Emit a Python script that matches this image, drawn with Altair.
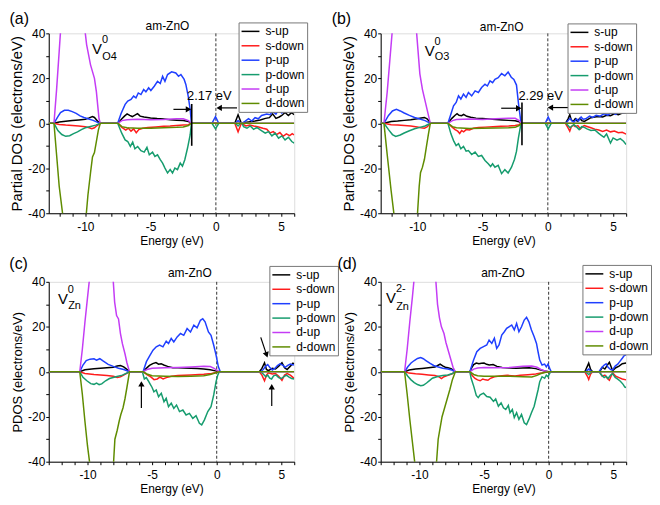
import altair as alt
import pandas as pd

FONT = "Liberation Sans, Arial, Helvetica, sans-serif"
SERIES = ["s-up", "s-down", "p-up", "p-down", "d-up", "d-down"]
COLORS = ["#000000", "#ff1c1c", "#1f3fff", "#169c6e", "#c43cf5", "#5f8c00"]

# ---------------- panel (a): V_O4^0 ----------------
A_S_UP = [(-12.8,0),(-12.4,0),(-12.0,0.6),(-11.5,0.9),(-11.0,1.2),(-10.5,1.5),(-10.0,1.8),(-9.7,2.4),(-9.45,3.0),(-9.3,2.6),(-9.15,1.6),(-9.0,0.6),(-8.85,0),(-7.5,0),(-7.2,2.0),(-7.0,3.2),(-6.8,4.2),(-6.6,3.5),(-6.4,3.0),(-6.2,3.6),(-6.0,4.3),(-5.8,3.2),(-5.5,2.8),(-5.0,2.4),(-4.5,2.1),(-4.0,1.9),(-3.5,1.6),(-3.0,1.4),(-2.5,1.2),(-2.1,0.8),(-1.9,0),(1.45,0),(1.7,3.8),(1.95,0),(2.1,0.3),(2.5,0.6),(3.0,1.0),(3.4,1.5),(3.8,2.2),(4.1,2.5),(4.35,4.2),(4.6,2.2),(4.85,2.8),(5.05,3.5),(5.3,4.8),(5.55,3.5),(5.8,4.7),(6.0,3.8)]
A_S_DOWN = [(-12.8,0),(-12.4,0),(-12.0,-0.5),(-11.5,-0.8),(-11.0,-1.0),(-10.5,-1.2),(-10.0,-1.5),(-9.7,-2.0),(-9.5,-2.4),(-9.3,-2.0),(-9.1,-1.0),(-8.85,0),(-7.5,0),(-7.2,-1.8),(-6.9,-3.0),(-6.7,-2.2),(-6.5,-3.5),(-6.3,-2.5),(-6.1,-4.2),(-5.9,-2.8),(-5.6,-2.2),(-5.2,-1.9),(-4.6,-1.6),(-4.0,-1.3),(-3.5,-1.2),(-3.0,-1.0),(-2.5,-0.8),(-2.1,-0.6),(-1.9,0),(1.45,0),(1.7,-3.8),(1.95,0),(2.1,-0.5),(2.3,-1.2),(2.6,-0.8),(2.9,-1.2),(3.2,-1.5),(3.6,-2.2),(3.9,-2.6),(4.15,-4.3),(4.4,-3.7),(4.65,-5.0),(4.9,-4.1),(5.15,-5.8),(5.4,-4.7),(5.65,-5.5),(5.85,-4.6),(6.0,-5.2)]
A_P_UP = [(-12.8,0),(-12.4,0),(-12.1,3.0),(-11.9,4.8),(-11.6,5.8),(-11.3,5.8),(-11.0,5.2),(-10.7,4.4),(-10.4,3.3),(-10.1,2.6),(-9.8,2.0),(-9.4,1.3),(-9.1,0.5),(-8.85,0),(-7.52,0),(-7.26,4.4),(-6.95,8.4),(-6.75,9.9),(-6.5,10.6),(-6.3,12.1),(-6.12,11.3),(-5.94,13.5),(-5.74,12.8),(-5.53,15.0),(-5.36,14.0),(-5.15,15.8),(-4.98,14.6),(-4.72,16.5),(-4.47,18.7),(-4.26,17.7),(-4.08,20.9),(-3.9,18.7),(-3.7,21.7),(-3.39,22.9),(-3.07,22.4),(-2.86,20.9),(-2.68,21.7),(-2.43,19.5),(-2.3,17.3),(-2.12,12.1),(-1.97,6.2),(-1.87,0),(-0.3,0),(-0.03,3.0),(0.22,0),(1.5,0),(1.7,1.2),(1.9,0),(2.0,0),(2.25,1.0),(2.5,2.1),(2.75,1.0),(3.0,2.5),(3.25,2.0),(3.5,3.5),(3.9,4.1),(4.15,3.8),(4.35,5.3),(4.6,4.1),(4.8,6.0),(5.05,4.6),(5.3,5.6),(5.55,6.6),(5.8,5.6),(6.0,6.2)]
A_P_DOWN = [(-12.8,0),(-12.4,0),(-12.1,-3.2),(-11.8,-5.0),(-11.5,-5.8),(-11.2,-5.5),(-10.9,-4.6),(-10.6,-3.8),(-10.3,-2.8),(-10.0,-2.0),(-9.6,-1.4),(-9.2,-0.8),(-8.85,0),(-7.52,0),(-7.21,-4.4),(-6.95,-7.4),(-6.75,-8.1),(-6.55,-10.3),(-6.37,-8.4),(-6.2,-11.3),(-5.99,-10.3),(-5.74,-12.2),(-5.49,-12.8),(-5.28,-10.7),(-5.1,-14.0),(-4.85,-12.8),(-4.67,-14.7),(-4.47,-14.0),(-4.26,-16.2),(-4.08,-17.7),(-3.9,-19.9),(-3.7,-22.1),(-3.5,-20.6),(-3.32,-22.1),(-3.14,-19.9),(-2.94,-20.6),(-2.73,-17.7),(-2.56,-19.1),(-2.38,-16.2),(-2.17,-11.0),(-1.97,-5.2),(-1.87,0),(-0.3,0),(-0.03,-2.5),(0.22,0),(1.5,0),(1.7,-1.2),(1.9,0),(2.0,0),(2.12,-1.5),(2.38,-2.2),(2.63,-1.2),(2.89,-2.7),(3.14,-1.8),(3.4,-2.9),(3.78,-4.4),(4.03,-3.7),(4.29,-5.6),(4.54,-4.4),(4.8,-6.6),(5.05,-5.6),(5.3,-7.4),(5.56,-6.2),(5.81,-8.1),(6.0,-8.8)]
A_D_UP = [(-12.8,0),(-12.4,0),(-12.2,15),(-12.0,32),(-11.85,45),(-11.5,80),(-10.5,80),(-10.1,45),(-10.0,40),(-9.9,35),(-9.6,26),(-9.3,20),(-9.15,14),(-9.05,8),(-8.95,2),(-8.85,0),(-7.5,0),(-7.2,1.2),(-6.8,1.6),(-6.0,1.8),(-5.0,1.6),(-4.0,1.7),(-3.0,2.0),(-2.5,2.0),(-2.1,1.2),(-1.9,0),(6.0,0)]
A_D_DOWN = [(-12.8,0),(-12.4,0),(-12.2,-14),(-12.0,-28),(-11.7,-42),(-11.0,-80),(-10.4,-80),(-9.95,-42),(-9.8,-32),(-9.6,-22),(-9.45,-15),(-9.3,-13),(-9.15,-8),(-9.0,-3),(-8.85,0),(-7.5,0),(-7.2,-1.5),(-6.8,-2.0),(-6.0,-2.2),(-5.0,-2.2),(-4.0,-2.0),(-3.0,-1.8),(-2.5,-1.6),(-2.1,-1.0),(-1.9,0),(6.0,0)]

# ---------------- panel (b): V_O3^0 ----------------
B_S_UP = [(-12.8,0),(-12.55,0),(-12.0,0.8),(-11.5,1.0),(-11.0,1.3),(-10.5,1.6),(-10.0,2.0),(-9.7,2.4),(-9.45,2.6),(-9.25,2.0),(-9.1,1.0),(-9.0,0),(-7.65,0),(-7.35,2.2),(-7.1,3.6),(-6.95,4.3),(-6.8,3.6),(-6.6,3.4),(-6.45,4.0),(-6.2,3.1),(-5.9,2.7),(-5.5,2.3),(-5.0,2.1),(-4.5,1.9),(-4.0,1.7),(-3.5,1.5),(-3.0,1.3),(-2.5,1.1),(-2.2,0.7),(-2.05,0),(1.35,0),(1.55,2.0),(1.68,3.8),(1.8,1.5),(1.95,0.8),(2.1,2.0),(2.25,1.0),(2.45,2.2),(2.6,1.2),(2.8,0.8),(3.0,1.5),(3.3,2.5),(3.6,2.8),(3.9,3.0),(4.2,2.8),(4.5,3.6),(4.8,3.4),(5.1,4.2),(5.4,3.8),(5.7,4.6),(6.0,4.8)]
B_S_DOWN = [(-12.8,0),(-12.55,0),(-12.0,-0.6),(-11.5,-0.8),(-11.0,-1.0),(-10.5,-1.2),(-10.0,-1.6),(-9.7,-2.0),(-9.45,-2.2),(-9.25,-1.6),(-9.1,-0.8),(-9.0,0),(-7.65,0),(-7.35,-1.6),(-7.1,-2.8),(-6.9,-3.5),(-6.75,-4.5),(-6.6,-3.2),(-6.45,-3.8),(-6.25,-2.8),(-6.0,-3.0),(-5.7,-2.2),(-5.3,-1.9),(-4.8,-1.7),(-4.2,-1.5),(-3.6,-1.3),(-3.0,-1.2),(-2.5,-1.0),(-2.2,-0.6),(-2.05,0),(1.35,0),(1.55,-2.0),(1.68,-3.5),(1.8,-1.5),(1.95,-0.8),(2.1,-1.5),(2.3,-1.0),(2.5,-2.5),(2.65,-1.5),(2.8,-1.0),(3.0,-1.4),(3.3,-2.0),(3.6,-2.6),(3.9,-3.0),(4.2,-3.6),(4.5,-3.0),(4.8,-3.8),(5.1,-3.4),(5.4,-4.2),(5.7,-4.0),(6.0,-4.8)]
B_P_UP = [(-12.8,0),(-12.55,0),(-12.2,3.5),(-11.9,5.5),(-11.6,6.2),(-11.3,5.5),(-11.0,4.6),(-10.6,3.5),(-10.2,2.6),(-9.8,1.9),(-9.4,1.2),(-9.0,0),(-7.65,0),(-7.42,4.1),(-7.22,7.8),(-7.02,9.3),(-6.84,12.2),(-6.66,10.8),(-6.46,13.0),(-6.26,11.5),(-6.08,13.7),(-5.83,12.2),(-5.57,14.4),(-5.32,13.7),(-5.07,15.9),(-4.81,17.4),(-4.63,16.6),(-4.43,18.9),(-4.23,18.1),(-4.05,19.6),(-3.8,20.3),(-3.54,22.1),(-3.29,21.1),(-3.04,22.8),(-2.8,20.5),(-2.6,19.5),(-2.4,17.0),(-2.25,9.0),(-2.05,0),(-0.2,0),(0.03,2.8),(0.26,0),(1.4,0),(1.55,1.2),(1.7,2.2),(1.85,1.0),(2.0,0.5),(2.2,2.0),(2.35,1.0),(2.55,2.8),(2.7,1.8),(2.9,2.0),(3.2,3.2),(3.45,2.6),(3.7,3.6),(4.0,3.2),(4.3,4.2),(4.6,3.6),(4.9,4.8),(5.2,4.0),(5.5,5.2),(5.8,4.6),(6.0,5.4)]
B_P_DOWN = [(-12.8,0),(-12.55,0),(-12.2,-2.8),(-11.9,-5.0),(-11.65,-5.8),(-11.3,-5.2),(-11.0,-4.3),(-10.6,-3.3),(-10.2,-2.4),(-9.8,-1.8),(-9.4,-1.2),(-9.0,0),(-7.65,0),(-7.42,-4.7),(-7.22,-7.7),(-7.02,-9.9),(-6.84,-9.1),(-6.66,-11.3),(-6.46,-10.3),(-6.26,-12.4),(-6.08,-12.1),(-5.83,-13.9),(-5.57,-12.8),(-5.32,-14.7),(-5.07,-14.3),(-4.81,-16.5),(-4.56,-18.0),(-4.38,-19.2),(-4.23,-18.0),(-4.05,-19.5),(-3.8,-18.7),(-3.54,-22.4),(-3.29,-20.6),(-3.04,-22.1),(-2.78,-19.5),(-2.55,-16.0),(-2.4,-12.5),(-2.25,-6.5),(-2.05,0),(-0.2,0),(0.03,-2.5),(0.26,0),(1.4,0),(1.55,-1.0),(1.7,-2.0),(1.85,-1.2),(2.0,-0.6),(2.2,-1.6),(2.4,-2.8),(2.6,-1.5),(2.8,-1.8),(3.0,-2.5),(3.3,-3.2),(3.6,-3.0),(3.9,-4.5),(4.1,-5.4),(4.3,-6.2),(4.5,-4.7),(4.8,-8.8),(5.0,-6.5),(5.3,-7.5),(5.55,-6.8),(5.8,-8.0),(6.0,-9.5)]
B_D_UP = [(-12.8,0),(-12.55,0),(-12.3,14),(-12.1,28),(-11.9,42),(-11.5,80),(-10.6,80),(-10.1,44),(-9.95,33),(-9.8,22),(-9.6,15),(-9.4,10),(-9.2,5),(-9.0,0),(-7.65,0),(-7.3,1.2),(-7.0,1.7),(-6.0,1.9),(-5.0,1.7),(-4.0,2.0),(-3.0,2.3),(-2.5,2.2),(-2.2,1.2),(-2.05,0),(6.0,0)]
B_D_DOWN = [(-12.8,0),(-12.55,0),(-12.3,-14),(-12.0,-30),(-11.75,-42),(-11.2,-80),(-10.4,-80),(-10.0,-42),(-9.85,-28),(-9.75,-22),(-9.6,-19.5),(-9.45,-16),(-9.3,-10.5),(-9.15,-5),(-9.0,0),(-7.65,0),(-7.3,-1.5),(-7.0,-2.0),(-6.0,-2.3),(-5.0,-2.2),(-4.0,-2.1),(-3.0,-2.0),(-2.5,-1.8),(-2.2,-1.0),(-2.05,0),(6.0,0)]

# ---------------- panel (c): V_Zn^0 ----------------
C_S_UP = [(-13,0),(-10.6,0),(-10.2,0.9),(-9.5,1.3),(-9.0,1.6),(-8.5,1.8),(-8.0,2.0),(-7.7,2.6),(-7.45,2.8),(-7.2,2.2),(-7.0,1.3),(-6.75,0),(-5.7,0),(-5.45,1.5),(-5.2,2.8),(-4.95,3.6),(-4.7,4.1),(-4.5,3.4),(-4.3,3.6),(-4.1,3.0),(-3.8,2.4),(-3.4,1.8),(-3.0,1.8),(-2.5,1.7),(-2.0,1.6),(-1.5,1.4),(-1.0,1.2),(-0.5,0.9),(-0.1,0.4),(0.2,0),(3.3,0),(3.5,1.5),(3.7,4.0),(3.85,1.0),(4.0,0.5),(4.3,1.5),(4.55,1.2),(4.8,2.5),(5.05,4.0),(5.25,1.8),(5.45,1.0),(5.7,2.5),(5.9,3.8),(6.0,3.5)]
C_S_DOWN = [(-13,0),(-10.6,0),(-10.2,-0.8),(-9.5,-1.2),(-9.0,-1.4),(-8.5,-1.7),(-8.0,-2.0),(-7.7,-2.5),(-7.45,-2.2),(-7.2,-1.5),(-7.0,-0.8),(-6.75,0),(-5.7,0),(-5.4,-1.3),(-5.1,-2.3),(-4.85,-3.5),(-4.6,-3.2),(-4.4,-2.4),(-4.15,-3.2),(-3.9,-2.6),(-3.5,-2.0),(-3.0,-1.7),(-2.0,-1.4),(-1.0,-1.1),(-0.4,-0.8),(0.2,0),(3.3,0),(3.5,-1.5),(3.7,-4.0),(3.85,-1.5),(4.0,-0.5),(4.3,-1.0),(4.55,-0.8),(4.8,-2.0),(5.05,-3.8),(5.25,-1.5),(5.45,-0.8),(5.7,-1.5),(5.9,-2.5),(6.0,-3.0)]
C_P_UP = [(-13,0),(-10.6,0),(-10.35,3.0),(-10.1,5.0),(-9.8,5.6),(-9.5,5.8),(-9.3,5.2),(-9.05,5.8),(-8.8,4.8),(-8.4,3.3),(-8.0,2.4),(-7.6,1.6),(-7.2,1.0),(-6.75,0),(-5.7,0),(-5.44,4.5),(-5.19,7.1),(-4.93,9.6),(-4.68,11.1),(-4.42,11.9),(-4.16,11.1),(-3.91,13.6),(-3.73,12.6),(-3.52,14.8),(-3.32,13.3),(-3.06,15.5),(-2.8,17.0),(-2.55,16.2),(-2.29,19.2),(-2.03,17.7),(-1.77,20.7),(-1.52,19.5),(-1.26,22.9),(-1.08,23.6),(-0.9,22.2),(-0.64,17.7),(-0.44,16.2),(-0.23,11.8),(-0.05,7.4),(0.13,2.2),(0.28,0),(3.4,0),(3.6,1.0),(3.8,2.5),(3.95,3.2),(4.1,2.0),(4.3,0.8),(4.5,1.5),(4.7,2.8),(4.9,3.5),(5.1,3.0),(5.3,2.0),(5.5,2.8),(5.7,3.4),(5.9,3.0),(6.0,3.2)]
C_P_DOWN = [(-13,0),(-10.6,0),(-10.35,-2.5),(-10.05,-4.0),(-9.75,-5.3),(-9.5,-5.6),(-9.3,-5.0),(-9.1,-5.7),(-8.9,-5.4),(-8.6,-4.0),(-8.3,-3.0),(-7.8,-2.2),(-7.3,-1.5),(-6.75,0),(-5.75,0),(-5.6,-3.2),(-5.45,-2.6),(-5.3,-4.0),(-5.15,-5.5),(-5.0,-7.0),(-4.86,-8.9),(-4.68,-8.1),(-4.5,-11.1),(-4.29,-9.6),(-4.08,-13.3),(-3.91,-11.8),(-3.73,-15.5),(-3.52,-14.0),(-3.32,-16.3),(-3.11,-14.8),(-2.88,-17.7),(-2.62,-17.0),(-2.37,-19.2),(-2.11,-18.5),(-1.85,-20.7),(-1.6,-19.5),(-1.34,-22.9),(-1.16,-23.6),(-0.95,-21.4),(-0.69,-17.7),(-0.44,-15.5),(-0.23,-10.3),(-0.05,-4.4),(0.08,-1.5),(0.2,0),(3.4,0),(3.6,-1.0),(3.8,-2.2),(3.95,-1.5),(4.1,-2.8),(4.25,-3.2),(4.4,-1.8),(4.6,-1.5),(4.8,-2.6),(5.0,-3.0),(5.2,-2.2),(5.4,-1.5),(5.6,-2.4),(5.8,-3.0),(6.0,-3.2)]
C_D_UP = [(-13,0),(-10.6,0),(-10.4,10),(-10.2,22),(-10.0,33),(-9.85,41),(-9.5,80),(-8.4,80),(-8.05,44),(-7.9,31),(-7.75,25),(-7.6,23.5),(-7.45,17),(-7.3,12.5),(-7.1,8),(-6.95,4),(-6.75,0),(-5.7,0),(-5.4,1.0),(-5.0,1.6),(-4.0,1.8),(-3.0,1.9),(-2.0,2.1),(-1.0,2.4),(-0.5,2.3),(-0.2,1.5),(0.2,0),(6.0,0)]
C_D_DOWN = [(-13,0),(-10.6,0),(-10.4,-10),(-10.2,-22),(-10.0,-33),(-9.8,-42),(-9.4,-80),(-8.4,-80),(-8.0,-42),(-7.88,-30),(-7.7,-26),(-7.55,-22),(-7.42,-19),(-7.25,-16),(-7.1,-12),(-6.95,-7),(-6.75,0),(-5.7,0),(-5.4,-1.0),(-5.0,-1.8),(-4.0,-2.0),(-3.0,-2.1),(-2.0,-2.0),(-1.0,-1.8),(-0.5,-1.2),(0.2,0),(6.0,0)]

# ---------------- panel (d): V_Zn^2- ----------------
D_S_UP = [(-13,0),(-11.15,0),(-10.8,0.8),(-10.3,1.2),(-9.8,1.5),(-9.3,1.8),(-8.8,2.1),(-8.55,2.9),(-8.4,3.4),(-8.2,2.6),(-8.0,2.0),(-7.8,1.8),(-7.55,1.4),(-7.35,0.6),(-7.22,0),(-6.1,0),(-5.95,1.8),(-5.8,3.2),(-5.6,3.9),(-5.4,3.6),(-5.2,3.8),(-5.0,3.9),(-4.8,3.3),(-4.6,3.0),(-4.3,3.2),(-4.0,2.4),(-3.6,1.9),(-3.0,1.7),(-2.5,1.6),(-2.0,1.7),(-1.5,1.8),(-1.0,1.4),(-0.6,0.8),(-0.3,0.3),(0.0,0),(2.8,0),(3.0,2.5),(3.1,3.8),(3.25,1.0),(3.4,0),(3.95,0),(4.15,2.0),(4.35,1.2),(4.55,3.0),(4.7,4.2),(4.85,2.0),(4.95,0.5),(5.2,1.8),(5.45,2.5),(5.7,3.6),(6.0,3.9)]
D_S_DOWN = [(-13,0),(-11.15,0),(-10.8,-0.6),(-10.3,-0.9),(-9.8,-1.1),(-9.3,-1.4),(-8.8,-1.7),(-8.5,-2.2),(-8.3,-3.0),(-8.1,-2.2),(-7.8,-1.6),(-7.5,-1.0),(-7.22,0),(-6.1,0),(-5.9,-1.8),(-5.7,-3.0),(-5.5,-3.6),(-5.3,-4.0),(-5.1,-3.2),(-4.9,-3.6),(-4.7,-3.8),(-4.5,-2.9),(-4.2,-2.2),(-3.8,-1.9),(-3.2,-1.6),(-2.6,-1.9),(-2.2,-1.6),(-1.6,-1.3),(-1.0,-1.0),(-0.6,-0.6),(-0.3,-0.2),(0.0,0),(2.8,0),(3.0,-2.0),(3.1,-3.4),(3.25,-1.0),(3.4,0),(3.95,0),(4.15,-2.0),(4.35,-1.5),(4.55,-3.0),(4.7,-3.8),(4.85,-1.8),(4.95,-0.5),(5.2,-2.0),(5.45,-2.6),(5.7,-3.2),(6.0,-3.6)]
D_P_UP = [(-13,0),(-11.15,0),(-10.9,2.2),(-10.65,3.9),(-10.4,5.0),(-10.15,5.9),(-9.9,6.3),(-9.7,5.8),(-9.5,5.0),(-9.2,3.8),(-8.9,2.8),(-8.6,2.2),(-8.2,1.6),(-7.8,1.2),(-7.5,0.8),(-7.22,0),(-6.1,0),(-5.81,5.2),(-5.56,8.9),(-5.3,10.4),(-5.04,11.2),(-4.79,11.9),(-4.61,14.1),(-4.4,12.6),(-4.2,14.9),(-4.02,10.4),(-3.84,11.9),(-3.63,16.3),(-3.43,17.8),(-3.25,19.3),(-3.07,20.0),(-2.86,20.8),(-2.66,18.6),(-2.48,21.5),(-2.3,17.8),(-2.1,20.0),(-1.89,23.0),(-1.71,24.2),(-1.53,22.2),(-1.33,18.6),(-1.12,15.6),(-0.94,12.6),(-0.82,8.9),(-0.69,5.2),(-0.51,3.0),(-0.31,3.4),(-0.18,2.2),(-0.05,3.4),(0.08,1.5),(0.2,0),(2.85,0),(3.1,1.2),(3.35,0),(3.9,0),(4.1,1.8),(4.3,3.0),(4.45,3.5),(4.6,2.0),(4.8,1.0),(4.95,0.8),(5.15,2.5),(5.35,3.4),(5.5,4.5),(5.7,6.0),(5.85,7.2),(6.0,7.5)]
D_P_DOWN = [(-13,0),(-11.15,0),(-10.9,-2.0),(-10.65,-3.6),(-10.4,-4.8),(-10.15,-5.7),(-9.9,-6.2),(-9.7,-6.0),(-9.45,-5.0),(-9.2,-3.8),(-9.0,-2.9),(-8.6,-2.1),(-8.2,-1.7),(-7.8,-1.4),(-7.5,-0.9),(-7.22,0),(-6.1,0),(-6.0,-2.9),(-5.79,-6.6),(-5.6,-10.5),(-5.45,-11.5),(-5.3,-10.3),(-5.04,-9.5),(-4.79,-11.0),(-4.53,-11.3),(-4.27,-13.2),(-4.1,-12.1),(-3.89,-15.3),(-3.68,-13.8),(-3.5,-16.0),(-3.32,-16.8),(-3.12,-15.0),(-2.99,-18.2),(-2.81,-16.8),(-2.66,-20.4),(-2.48,-18.2),(-2.3,-21.2),(-2.1,-19.0),(-1.89,-22.7),(-1.71,-23.5),(-1.53,-21.2),(-1.33,-18.2),(-1.12,-15.3),(-0.94,-11.0),(-0.82,-8.1),(-0.69,-4.4),(-0.51,-2.2),(-0.31,-2.9),(-0.18,-1.5),(-0.05,-2.2),(0.08,-0.7),(0.2,0),(2.85,0),(3.1,-1.2),(3.35,0),(3.9,0),(4.1,-1.5),(4.3,-2.6),(4.45,-2.0),(4.6,-3.0),(4.8,-1.5),(4.95,-0.8),(5.15,-2.5),(5.35,-3.3),(5.55,-4.2),(5.75,-5.5),(5.9,-6.8),(6.0,-7.0)]
D_D_UP = [(-13,0),(-11.15,0),(-10.95,10),(-10.75,22),(-10.55,33),(-10.4,42),(-10.0,80),(-9.0,80),(-8.75,42),(-8.6,30),(-8.45,24),(-8.3,20),(-8.1,17),(-7.95,13),(-7.8,10),(-7.6,6),(-7.4,2),(-7.22,0),(-6.1,0),(-5.8,1.2),(-5.5,1.7),(-5.0,1.9),(-4.0,1.8),(-3.0,1.9),(-2.0,2.4),(-1.3,2.6),(-0.9,2.0),(-0.6,1.0),(-0.3,0.4),(0.0,0),(6.0,0)]
D_D_DOWN = [(-13,0),(-11.15,0),(-10.95,-10),(-10.75,-21),(-10.55,-31),(-10.35,-41),(-9.9,-80),(-9.0,-80),(-8.7,-42),(-8.55,-30),(-8.4,-25),(-8.25,-20),(-8.1,-17),(-7.95,-14),(-7.8,-11),(-7.65,-8),(-7.45,-3.5),(-7.22,0),(-6.1,0),(-5.8,-1.2),(-5.5,-1.8),(-5.0,-2.0),(-4.0,-2.0),(-3.0,-2.0),(-2.0,-2.2),(-1.3,-2.3),(-0.9,-1.6),(-0.6,-0.8),(-0.3,-0.3),(0.0,0),(6.0,0)]

# ---------------- annotation text / positions (data units: eV, states/eV) ----------------
PANEL_LABELS = ["(a)", "(b)", "(c)", "(d)"]
LABEL_POS = [(-15.8, 50.0), (-16.55, 50.0), (-16.05, 51.5), (-16.35, 51.5)]
TITLE_POS = [(-3.71, 43.1), (-3.54, 42.8), (-2.08, 43.8), (-3.53, 43.7)]
DEFECT_SUP = ["0", "0", "0", "2-"]
DEFECT_SUB = ["O4", "O3", "Zn", "Zn"]
V_POS = [(-9.1, 32.9), (-9.05, 32.2), (-11.9, 32.2), (-12.2, 32.7)]
SUP_POS = [(-8.72, 36.9), (-8.67, 36.2), (-11.52, 36.5), (-11.82, 36.9)]
SUB_POS = [(-8.7, 29.6), (-8.65, 29.6), (-11.5, 29.2), (-11.8, 29.0)]
GAP_TEXT = ["2.17 eV", "2.29 eV"]
GAP_TEXT_POS = [(-0.5, 12.2), (-0.55, 12.3)]
# line segments (E1, D1, E2, D2, width)
SEGMENTS = [
    [(-1.85, -10.0, -1.85, 8.6, 1.6), (-3.25, 6.2, -2.1, 6.2, 1.2), (1.62, 6.85, 0.25, 6.85, 1.2)],
    [(-1.98, -9.8, -1.98, 9.2, 1.6), (-3.57, 6.7, -2.23, 6.7, 1.2), (1.65, 7.0, 0.2, 7.0, 1.2)],
    [(-5.83, -16.1, -5.83, -5.4, 1.2), (4.26, -15.2, 4.26, -6.7, 1.2), (3.41, 15.3, 3.864, 7.53, 1.2)],
    [],
]
# arrow heads (E, D, shape, angle)
HEADS = [
    [(-2.1, 6.2, "triangle-right", 0), (0.25, 6.85, "triangle-left", 0)],
    [(-2.23, 6.7, "triangle-right", 0), (0.2, 7.0, "triangle-left", 0)],
    [(-5.83, -5.4, "triangle-up", 0), (4.26, -6.7, "triangle-up", 0), (3.864, 7.53, "triangle-down", 341.5)],
    [],
]
X_DOMAINS = [(-12.8, 6), (-12.8, 6), (-13, 6), (-13, 6)]
Y_TITLES = ["Partial DOS (electrons/eV)", "Partial DOS (electrons/eV)", "PDOS (electrons/eV)", "PDOS (electrons/eV)"]
Y_TITLE_SIZES = [15, 15, 13, 13]
LEGEND_XY = [(191, -11), (188, -10), (222, -16), (203, -17)]

PANEL_SERIES = [
    [A_S_UP, A_S_DOWN, A_P_UP, A_P_DOWN, A_D_UP, A_D_DOWN],
    [B_S_UP, B_S_DOWN, B_P_UP, B_P_DOWN, B_D_UP, B_D_DOWN],
    [C_S_UP, C_S_DOWN, C_P_UP, C_P_DOWN, C_D_UP, C_D_DOWN],
    [D_S_UP, D_S_DOWN, D_P_UP, D_P_DOWN, D_D_UP, D_D_DOWN],
]

W, H = 247, 181


def make_panel(k):
    rows = []
    for name, pts in zip(SERIES, PANEL_SERIES[k]):
        for i, (e, d) in enumerate(pts):
            rows.append({"series": name, "E": e, "DOS": d, "i": i})
    lines = pd.DataFrame(rows)

    lo, hi = X_DOMAINS[k]
    xt = list(range(int(-13 if lo <= -13 else -12), 7))
    lab = "datum.value % 5 == 0 ? (datum.value < 0 ? '-' + abs(datum.value) : '' + datum.value) : ''"
    x = alt.X("E:Q", scale=alt.Scale(domain=[lo, hi], nice=False, zero=False),
              axis=alt.Axis(values=xt, labelExpr=lab, title="Energy (eV)", grid=False,
                            tickSize=3, labelPadding=5, titlePadding=3, labelFontSize=12,
                            titleFontSize=12, titleFontWeight="normal", labelOverlap=False,
                            labelFlush=False, domainColor="black", tickColor="black",
                            labelColor="black", titleColor="black", labelFont=FONT, titleFont=FONT))
    y = alt.Y("DOS:Q", scale=alt.Scale(domain=[-40, 40], nice=False),
              axis=alt.Axis(values=list(range(-40, 41, 10)),
                            labelExpr="datum.value % 20 == 0 ? (datum.value < 0 ? '-' + abs(datum.value) : '' + datum.value) : ''",
                            title=Y_TITLES[k], grid=False, tickSize=3, labelPadding=1,
                            titlePadding=3, labelFontSize=12, titleFontSize=Y_TITLE_SIZES[k],
                            titleFontWeight="normal", labelOverlap=False, labelFlush=False,
                            domainColor="black", tickColor="black", labelColor="black",
                            titleColor="black", labelFont=FONT, titleFont=FONT))
    lx, ly = LEGEND_XY[k]
    color = alt.Color("series:N", scale=alt.Scale(domain=SERIES, range=COLORS),
                      legend=alt.Legend(title=None, orient="none", legendX=lx, legendY=ly,
                                        fillColor="white", strokeColor="#777", padding=2,
                                        symbolType="M-1,0H2", symbolSize=144, symbolStrokeWidth=1.5,
                                        labelFontSize=12, labelFont=FONT, labelOffset=11,
                                        rowPadding=1.5, labelColor="black", labelLimit=200))

    layers = []
    # dashed Fermi level
    layers.append(alt.Chart(pd.DataFrame({"E": [0.0]})).mark_rule(
        color="#333", strokeDash=[3, 2], strokeWidth=1).encode(x=x))
    for s in SERIES:
        layers.append(alt.Chart(lines).transform_filter(alt.datum.series == s).mark_line(
            clip=True, strokeWidth=1.5).encode(x=x, y=y, color=color, order="i:Q"))

    for (e1, d1, e2, d2, w) in SEGMENTS[k]:
        seg = pd.DataFrame({"E": [e1], "DOS": [d1], "E2": [e2], "D2": [d2]})
        layers.append(alt.Chart(seg).mark_rule(color="black", strokeWidth=w).encode(
            x=x, y=y, x2="E2:Q", y2="D2:Q"))
    for (e, d, shp, ang) in HEADS[k]:
        hd = pd.DataFrame({"E": [e], "DOS": [d]})
        layers.append(alt.Chart(hd).mark_point(shape=shp, angle=ang, filled=True, size=40,
                                               color="black", opacity=1).encode(x=x, y=y))

    def txt(t, pos, size, align="center", baseline="middle"):
        df = pd.DataFrame({"E": [pos[0]], "DOS": [pos[1]], "t": [t]})
        return alt.Chart(df).mark_text(font=FONT, fontSize=size, align=align, baseline=baseline,
                                       color="black").encode(x=x, y=y, text="t:N")

    layers.append(txt(PANEL_LABELS[k], LABEL_POS[k], 16, align="left", baseline="top"))
    layers.append(txt("am-ZnO", TITLE_POS[k], 12))
    layers.append(txt("V", V_POS[k], 15))
    layers.append(txt(DEFECT_SUP[k], SUP_POS[k], 11, align="left"))
    layers.append(txt(DEFECT_SUB[k], SUB_POS[k], 11, align="left"))
    if k < 2:
        layers.append(txt(GAP_TEXT[k], GAP_TEXT_POS[k], 13))

    return alt.layer(*layers).properties(width=W, height=H)


panels = [make_panel(k) for k in range(4)]
chart = alt.concat(*panels, columns=2, spacing={"row": 69, "column": 87}, bounds="flush"
                   ).resolve_legend(color="independent").resolve_scale(x="independent", y="independent"
                   ).properties(padding=0).configure_view(stroke="#444", strokeWidth=1
                   ).configure(font=FONT)

chart.save("out.html", embed_options={"renderer": "svg", "actions": False})
